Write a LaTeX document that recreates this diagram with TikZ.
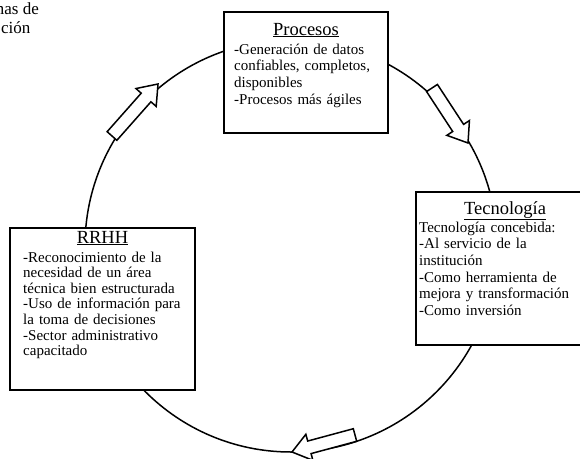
\documentclass[tikz,border=0pt]{standalone}
\usepackage{fontspec}
\setmainfont{Liberation Serif}
\usetikzlibrary{calc}
\tikzset{
  boxframe/.style={draw, line width=1.8pt, fill=white, inner sep=0pt},
  titletext/.style={inner sep=0pt, anchor=base, font=\fontsize{18.5}{20}\selectfont},
  bodytext/.style={inner sep=0pt, anchor=base west, align=left, text width=#1},
  ring/.style={line width=1.5pt},
  arrowshape/.style={draw, fill=white, line width=1.5pt, line join=miter},
  cornertext/.style={inner sep=0pt, font=\fontsize{17}{19}\selectfont}
}
\newcommand{\blockarrow}[3]{%
  \coordinate (#3) at ($(#2)!18pt!(#1)$);
  \draw[arrowshape] ($(#1)!6.5pt!90:(#2)$) -- ($(#3)!6.5pt!90:(#2)$) -- ($(#3)!13.5pt!90:(#2)$)
    -- (#2) -- ($(#3)!13.5pt!-90:(#2)$) -- ($(#3)!6.5pt!-90:(#2)$) -- ($(#1)!6.5pt!-90:(#2)$) -- cycle;}
\begin{document}
\begin{tikzpicture}[x=1pt,y=-1pt]
\useasboundingbox (0,0) rectangle (580,458);
\clip (0,0) rectangle (580,458);
% ring
\coordinate (c) at (291,246);
\draw[ring] (c) circle[radius=206pt];
% corner text (cut off)
\node[cornertext, anchor=base east] (tl1) at (39,14) {mas de};
\node[cornertext, anchor=base west] (tl2) at (1,33) {ción};
% boxes
\node[boxframe, minimum width=164pt, minimum height=121pt] (proc) at (306,72.5) {};
\node[titletext] (proct) at (306,35) {\underline{Procesos}};
\node[bodytext=160pt, font=\fontsize{15}{16.7}\selectfont] (procb) at (234,54)
  {-Generación de datos\\confiables, completos,\\disponibles\\-Procesos más ágiles};
\node[boxframe, minimum width=178pt, minimum height=153pt] (tec) at (505,268.5) {};
\node[titletext] (tect) at (505,214) {\underline{Tecnología}};
\node[bodytext=180pt, font=\fontsize{15}{16.7}\selectfont] (tecb) at (419,232)
  {Tecnología concebida:\\-Al servicio de la\\institución\\-Como herramienta de\\mejora y transformación\\-Como inversión};
\node[boxframe, minimum width=185pt, minimum height=162pt] (rrhh) at (102.5,309) {};
\node[titletext] (rrhht) at (102.5,243) {\underline{RRHH}};
\node[bodytext=180pt, font=\fontsize{15}{15.6}\selectfont] (rrhhb) at (23,262)
  {-Reconocimiento de la\\necesidad de un área\\técnica bien estructurada\\-Uso de información para\\la toma de decisiones\\-Sector administrativo\\capacitado};
% block arrows
\coordinate (a1t) at (112,136); \coordinate (a1h) at (158,84);
\blockarrow{a1t}{a1h}{a1b}
\coordinate (a2t) at (432,88); \coordinate (a2h) at (468,143);
\blockarrow{a2t}{a2h}{a2b}
\coordinate (a3t) at (355,435); \coordinate (a3h) at (292,452);
\blockarrow{a3t}{a3h}{a3b}
\end{tikzpicture}
\end{document}
